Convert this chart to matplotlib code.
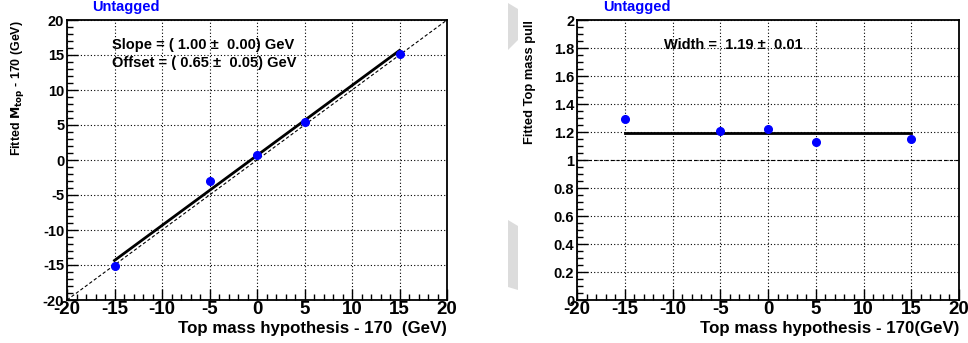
import numpy as np
import matplotlib.pyplot as plt
from matplotlib.patches import Polygon
from matplotlib.ticker import MultipleLocator

# mass points (hypothesis - 170)
mass_hyp = [-15, -5, 0, 5, 15]

# left panel: fitted top mass - 170
fitted_mass = [-15.2, -3.0, 0.7, 5.5, 15.2]
fitted_mass_err = [0.15, 0.15, 0.15, 0.15, 0.15]
slope, slope_err = 1.00, 0.00
offset, offset_err = 0.65, 0.05

# right panel: pull width
pull_width = [1.29, 1.21, 1.22, 1.13, 1.15]
pull_width_err = [0.02, 0.02, 0.02, 0.02, 0.02]
width_fit, width_fit_err = 1.19, 0.01

# tick labels
x_ticks = [-20, -15, -10, -5, 0, 5, 10, 15, 20]
y1_ticks = [-20, -15, -10, -5, 0, 5, 10, 15, 20]
y2_ticks = [0, 0.2, 0.4, 0.6, 0.8, 1, 1.2, 1.4, 1.6, 1.8, 2]

plt.rcParams['font.family'] = ['Liberation Sans', 'DejaVu Sans']
plt.rcParams['font.weight'] = 'bold'
plt.rcParams['axes.unicode_minus'] = False

W, H = 968, 343
fig = plt.figure(figsize=(W / 100, H / 100), dpi=100)


def fx(px):
    return px / W


def fy(py):
    return 1 - py / H


def style_axes(ax, yticks, ymin):
    ax.set_xlim(-20, 20)
    ax.set_ylim(yticks[0], yticks[-1])
    ax.set_xticks(x_ticks)
    ax.set_xticklabels([f'{v:g}' for v in x_ticks], fontsize=13.5, fontweight='bold')
    ax.set_yticks(yticks)
    ax.set_yticklabels([f'{v:g}' for v in yticks], fontsize=10.5, fontweight='bold')
    ax.xaxis.set_minor_locator(MultipleLocator(1))
    ax.yaxis.set_minor_locator(MultipleLocator(ymin))
    ax.tick_params(which='both', direction='in', top=False, right=False, width=1)
    ax.tick_params(which='major', length=8)
    ax.tick_params(which='minor', length=4)
    ax.tick_params(axis='x', pad=1)
    ax.tick_params(axis='y', pad=2)
    ax.grid(True, which='major', linestyle=(0, (1, 2)), color='black', linewidth=0.8)
    for s in ax.spines.values():
        s.set_linewidth(1.3)


# ---------- left panel ----------
ax1 = fig.add_axes([fx(67), fy(300), fx(447) - fx(67), fy(20) - fy(300)])
style_axes(ax1, y1_ticks, 1)
diag = np.array([-20, 20])
ax1.plot(diag, diag, linestyle=(0, (3, 2)), color='black', linewidth=0.8)
xfit = np.array([mass_hyp[0], mass_hyp[-1]])
ax1.plot(xfit, slope * xfit + offset, color='black', linewidth=2)
ax1.errorbar(mass_hyp, fitted_mass, yerr=fitted_mass_err, fmt='o', color='#0000ff',
             markersize=5.5, ecolor='black', elinewidth=1, capsize=0, zorder=5)
ax1.text(-15.3, 16.4, f'Slope = ( {slope:.2f} \u00b1  {slope_err:.2f}) GeV', fontsize=10.5,
         fontweight='bold', ha='left', va='center')
ax1.text(-15.3, 13.9, f'Offset = ( {offset:.2f} \u00b1  {offset_err:.2f}) GeV', fontsize=10.5,
         fontweight='bold', ha='left', va='center')
fig.text(fx(447), fy(328), 'Top mass hypothesis - 170  (GeV)', fontsize=12.2,
         fontweight='bold', ha='right', va='center')
fig.text(fx(17), fy(20), r'Fitted $\mathbf{M_{top}}$ - 170 (GeV)', fontsize=8.9,
         fontweight='bold', rotation=90, ha='center', va='top')
fig.text(fx(126), fy(7), 'Untagged', fontsize=10.5, fontweight='bold', color='#0000ff',
         ha='center', va='center')

# ---------- right panel ----------
ax2 = fig.add_axes([fx(577), fy(300), fx(959) - fx(577), fy(20) - fy(300)])
style_axes(ax2, y2_ticks, 0.05)
ax2.axhline(1.0, linestyle=(0, (3, 2)), color='black', linewidth=0.8)
ax2.plot([mass_hyp[0], mass_hyp[-1]], [width_fit, width_fit], color='black', linewidth=2)
ax2.errorbar(mass_hyp, pull_width, yerr=pull_width_err, fmt='o', color='#0000ff',
             markersize=5.5, ecolor='black', elinewidth=1, capsize=0, zorder=5)
ax2.text(-10.9, 1.82, f'Width =  {width_fit:.2f} \u00b1  {width_fit_err:.2f}', fontsize=10.5,
         fontweight='bold', ha='left', va='center')
fig.text(fx(959), fy(328), 'Top mass hypothesis - 170(GeV)', fontsize=12.2,
         fontweight='bold', ha='right', va='center')
fig.text(fx(530), fy(20), 'Fitted Top mass pull', fontsize=9.3,
         fontweight='bold', rotation=90, ha='center', va='top')
fig.text(fx(637), fy(7), 'Untagged', fontsize=10.5, fontweight='bold', color='#0000ff',
         ha='center', va='center')

# grey scan artefacts between the panels
for pts in ([(508, 3), (518, 9), (518, 40), (508, 50)],
            [(508, 220), (518, 226), (518, 290), (508, 287)]):
    fig.patches.append(Polygon([(fx(a), fy(b)) for a, b in pts], closed=True,
                               transform=fig.transFigure, facecolor='#dcdcdc',
                               edgecolor='none'))

fig.savefig('out.png', dpi=100)
